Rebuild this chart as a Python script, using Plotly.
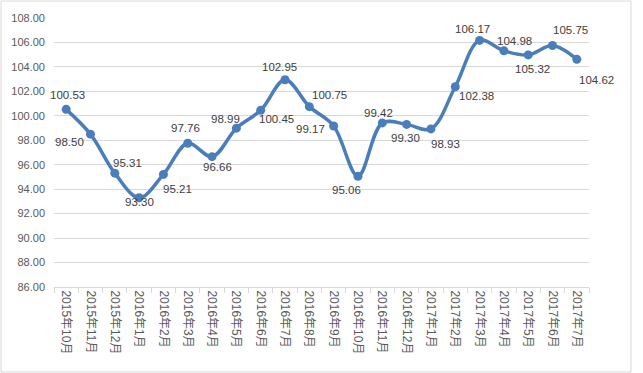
import plotly.graph_objects as go

categories = ["2015年10月", "2015年11月", "2015年12月",
              "2016年1月", "2016年2月", "2016年3月", "2016年4月", "2016年5月", "2016年6月",
              "2016年7月", "2016年8月", "2016年9月", "2016年10月", "2016年11月", "2016年12月",
              "2017年1月", "2017年2月", "2017年3月", "2017年4月", "2017年5月", "2017年6月", "2017年7月"]
values = [100.53, 98.50, 95.31, 93.30, 95.21, 97.76, 96.66, 98.99, 100.45, 102.95, 100.75,
          99.17, 95.06, 99.42, 99.30, 98.93, 102.38, 106.17, 105.32, 104.98, 105.75, 104.62]
label_text = ["100.53", "98.50", "95.31", "93.30", "95.21", "97.76", "96.66", "98.99", "100.45",
              "102.95", "100.75", "99.17", "95.06", "99.42", "99.30", "98.93", "102.38", "106.17",
              "104.98", "105.32", "105.75", "104.62"]
# label offsets from each point, in pixels (right, down)
label_dx = [1, -21, 13, 0, 14, -2, 5, -11, 16, -6, 20, -23, -11, -4, -1, 15, 21, -7, 11, 4, 18, 20]
label_dy = [-14, 8, -10, 4, 15, -15, 10, -9, 9, -13, -12, 3, 14, -10, 14, 15, 9, -11, -10, 14, -16, 21]
y_ticks = [86, 88, 90, 92, 94, 96, 98, 100, 102, 104, 106, 108]

FONT = "Liberation Sans, Noto Sans CJK SC, sans-serif"

fig = go.Figure()
fig.add_trace(go.Scatter(
    x=categories, y=values, mode="lines+markers",
    line=dict(color="#4A7EBB", width=3.5, shape="spline", smoothing=1.0),
    marker=dict(color="#4A7EBB", size=9),
    cliponaxis=False, hoverinfo="x+y",
))

for c, v, t, dx, dy in zip(categories, values, label_text, label_dx, label_dy):
    fig.add_annotation(x=c, y=v, text=t, showarrow=False, xshift=dx, yshift=-dy,
                       font=dict(family=FONT, size=11.5, color="#404040"))

fig.update_layout(
    width=643, height=373,
    margin=dict(l=54, r=54, t=18, b=86, autoexpand=False),
    paper_bgcolor="white", plot_bgcolor="white",
    showlegend=False,
    font=dict(family=FONT, color="#595959"),
    xaxis=dict(
        type="category", tickson="boundaries", ticks="outside", ticklen=5,
        tickcolor="#d9d9d9", showline=True, linecolor="#d9d9d9", linewidth=1,
        showgrid=False, tickangle=90, tickfont=dict(size=12, color="#595959"),
        range=[-0.5, len(categories) - 0.5], automargin=False,
    ),
    yaxis=dict(
        range=[86, 108], tickvals=y_ticks, ticktext=[f"{v:.2f}" for v in y_ticks],
        showgrid=True, gridcolor="#d9d9d9", gridwidth=1, zeroline=False,
        showline=False, ticks="", tickfont=dict(size=11, color="#595959"),
        ticklabelstandoff=8, automargin=False,
    ),
)

# chart border
fig.add_shape(type="rect", xref="paper", yref="paper",
              x0=-53 / 535, x1=(631 - 54) / 535, y0=-(372 - 287) / 269, y1=(287 - 1) / 269,
              line=dict(color="#d9d9d9", width=1), fillcolor="rgba(0,0,0,0)", layer="below")

fig.write_html("out.html", config={"displayModeBar": False},
               post_script="document.body.style.margin='0';document.body.style.overflow='hidden';")
